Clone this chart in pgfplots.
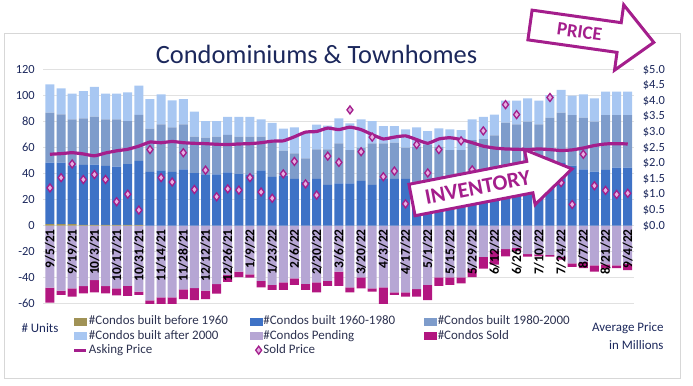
\documentclass[border=0pt]{standalone}
\usepackage{fontspec}
\setmainfont{Carlito}
\usepackage{pgfplots}
\pgfplotsset{compat=1.18}
\usepackage{pgfplotstable}

\definecolor{navy}{RGB}{28,40,92}
\definecolor{legc}{RGB}{45,50,80}
\definecolor{cA}{RGB}{160,146,86}
\definecolor{cB}{RGB}{62,114,198}
\definecolor{cC}{RGB}{126,156,203}
\definecolor{cD}{RGB}{168,199,242}
\definecolor{cP}{RGB}{182,166,212}
\definecolor{cS}{RGB}{178,22,128}
\definecolor{cL}{RGB}{164,30,140}
\definecolor{cM}{RGB}{228,176,226}
\definecolor{gridc}{RGB}{225,225,225}
\definecolor{framec}{RGB}{215,215,215}

\pgfplotstableread{
i b c1 c2 c3 pend sold ask sp
0 1.2 47.3 38.5 21.8 -47.7 -11.5 2.29 1.21
1 1.2 47.3 37.2 20.0 -50.0 -3.3 2.31 1.54
2 1.2 45.3 35.3 19.8 -48.3 -6.3 2.34 1.98
3 0.6 46.1 35.9 21.0 -46.4 -5.6 2.30 1.48
4 0.6 46.4 36.9 22.8 -41.8 -9.4 2.24 1.64
5 0.6 45.4 35.8 19.8 -46.4 -5.6 2.33 1.48
6 0.6 44.9 36.3 19.8 -48.3 -5.2 2.40 0.77
7 0.6 46.7 33.2 22.1 -46.2 -7.8 2.45 1.01
8 0.6 49.2 35.4 22.5 -50.8 -2.5 2.55 0.50
9 0 41.5 33.1 22.8 -57.4 -3.1 2.68 2.44
10 0 42.6 35.4 23.0 -55.1 -5.4 2.66 1.54
11 0 41.5 34.1 20.8 -55.1 -5.4 2.70 1.40
12 0 43.4 34.6 19.4 -48.9 -7.5 2.66 2.34
13 0 40.5 28.0 19.2 -48.0 -9.2 2.64 1.16
14 0 39.5 28.2 12.8 -50.0 -6.4 2.63 1.78
15 0 39.5 29.0 12.0 -45.0 -7.3 2.61 0.93
16 0 41.0 28.8 14.0 -38.0 -5.3 2.60 1.18
17 0 40.0 28.5 15.3 -35.4 -4.2 2.62 1.14
18 0 39.5 29.0 15.3 -37.4 -2.6 2.63 1.54
19 0 42.5 26.0 13.3 -42.5 -4.9 2.66 1.08
20 0 37.5 27.7 13.8 -45.6 -3.8 2.71 0.88
21 0 38.5 19.2 16.9 -43.6 -5.8 2.72 1.66
22 0 36.0 19.7 20.0 -40.5 -5.1 2.85 2.06
23 0 34.0 17.8 19.4 -44.8 -4.6 3.00 1.34
24 0 36.0 22.8 19.0 -43.6 -7.6 3.02 0.98
25 0 31.5 27.3 18.2 -42.5 -3.7 3.13 2.23
26 0 32.6 30.8 19.2 -35.4 -10.8 3.08 2.03
27 0 32.6 25.6 20.5 -47.4 -3.8 3.16 3.71
28 0 34.5 25.5 21.8 -39.7 -8.5 3.08 2.37
29 0 31.5 31.9 17.1 -48.2 -2.6 2.92 2.84
30 0 36.0 27.4 13.2 -47.4 -13.1 2.78 1.57
31 0 36.0 27.9 12.7 -51.2 -2.1 2.84 1.75
32 0 36.0 24.0 14.0 -51.2 -3.4 2.88 0.70
33 0 34.0 26.8 14.9 -48.7 -5.9 2.76 2.60
34 0 33.0 29.1 10.7 -45.6 -11.6 2.64 1.69
35 0 34.0 26.8 14.1 -39.7 -6.5 2.78 2.44
36 0 34.0 24.2 15.8 -39.7 -5.9 2.82 1.30
37 0 35.0 23.2 15.3 -39.7 -4.6 2.76 2.72
38 0 35.0 30.9 15.9 -33.0 -6.5 2.66 1.79
39 0 36.0 30.5 17.3 -24.0 -9.0 2.55 3.04
40 0 37.0 32.5 15.9 -19.0 -11.0 2.49 1.60
41 0 38.0 41.2 17.0 -18.0 -5.5 2.46 3.88
42 0 38.0 40.0 18.2 -17.0 -2.5 2.45 3.56
43 0 40.0 40.0 18.0 -21.8 -2.0 2.44 1.60
44 0 41.0 37.0 18.2 -22.0 -1.5 2.46 1.70
45 0 43.0 40.1 17.4 -22.5 -1.3 2.44 4.11
46 0 48.8 38.1 17.5 -24.0 -2.0 2.41 1.38
47 0 46.2 38.9 14.9 -29.0 -2.6 2.43 0.68
48 0 43.3 39.8 17.9 -28.0 -4.6 2.49 2.29
49 0 41.6 38.4 18.0 -30.5 -4.9 2.57 1.28
50 0 42.9 42.2 18.0 -29.8 -3.2 2.62 1.13
51 0 44.7 40.4 18.0 -30.5 -2.1 2.63 1.00
52 0 44.7 40.4 18.0 -29.2 -5.0 2.62 1.04
}\data

\pgfplotsset{base/.style={
  scale only axis, width=591.1bp, height=234bp,
  at={(43.3bp,81.3bp)}, anchor=south west,
  xmin=-0.6, xmax=52.6,
  axis line style={draw=none}, major tick length=0pt,
  tick label style={font=\fontsize{12.5}{14}\selectfont, text=navy},
  /pgf/number format/assume math mode=true,
}}

\begin{document}
\begin{tikzpicture}[x=1bp,y=1bp]
\path[use as bounding box] (0,0) rectangle (693,385);
\draw[framec, line width=1bp] (4,7) rectangle (680,352);

\node[anchor=base, font=\fontsize{26.5}{30}\selectfont, text=navy] at (316.5,322) {Condominiums \& Townhomes};

% negative bars
\begin{axis}[base, ymin=-60, ymax=120, ytick={-60,-40,...,120},
  ymajorgrids, grid style={gridc, line width=0.8bp}, xtick=\empty,
  yticklabel style={xshift=-5bp},
  ybar stacked, bar width=9bp]
\addplot[fill=cP, draw=none] table[x=i,y=pend]{\data};
\addplot[fill=cS, draw=none] table[x=i,y=sold]{\data};
\end{axis}

% positive bars
\begin{axis}[base, ymin=-60, ymax=120, ytick=\empty,
  ybar stacked, bar width=9bp,
  axis x line*=middle, hide obscured x ticks=false,
  xtick={0,2,...,52},
  xticklabels={9/5/21,9/19/21,10/3/21,10/17/21,10/31/21,11/14/21,11/28/21,12/12/21,12/26/21,1/9/22,1/23/22,2/6/22,2/20/22,3/6/22,3/20/22,4/3/22,4/17/22,5/1/22,5/15/22,5/29/22,6/12/22,6/26/22,7/10/22,7/24/22,8/7/22,8/21/22,9/4/22},
  xticklabel style={rotate=90, anchor=east, font=\bfseries\fontsize{13.5}{14}\selectfont, text=black}]
\addplot[fill=cA, draw=none] table[x=i,y=b]{\data};
\addplot[fill=cB, draw=none] table[x=i,y=c1]{\data};
\addplot[fill=cC, draw=none] table[x=i,y=c2]{\data};
\addplot[fill=cD, draw=none] table[x=i,y=c3]{\data};
\end{axis}

% prices
\begin{axis}[base, ymin=-2.5, ymax=5, axis y line*=right,
  ytick={0,0.5,...,5}, xtick=\empty,
  yticklabel={\$\pgfmathprintnumber[fixed,fixed zerofill,precision=1]{\tick}},
  yticklabel style={xshift=5bp},
  legend columns=3, legend cell align=left,
  legend style={at={(axis description cs:0.0502,-0.0483)}, anchor=north west,
    draw=none, fill=none, inner sep=0pt, outer sep=0pt,
    font=\fontsize{13}{15}\selectfont, text=legc, row sep=2bp,
    nodes={inner sep=1bp}}]
\addlegendimage{legend image code/.code={\fill[cA] (0bp,-3.5bp) rectangle (12bp,3.5bp);}}
\addlegendentry{\makebox[160bp][l]{\#Condos built before 1960}}
\addlegendimage{legend image code/.code={\fill[cB] (0bp,-3.5bp) rectangle (12bp,3.5bp);}}
\addlegendentry{\makebox[160bp][l]{\#Condos built 1960-1980}}
\addlegendimage{legend image code/.code={\fill[cC] (0bp,-3.5bp) rectangle (12bp,3.5bp);}}
\addlegendentry{\makebox[140bp][l]{\#Condos built 1980-2000}}
\addlegendimage{legend image code/.code={\fill[cD] (0bp,-3.5bp) rectangle (12bp,3.5bp);}}
\addlegendentry{\#Condos built after 2000}
\addlegendimage{legend image code/.code={\fill[cP] (0bp,-3.5bp) rectangle (12bp,3.5bp);}}
\addlegendentry{\#Condos Pending}
\addlegendimage{legend image code/.code={\fill[cS] (0bp,-3.5bp) rectangle (12bp,3.5bp);}}
\addlegendentry{\#Condos Sold}
\addplot[cL, line width=3.2bp, smooth, tension=0.3,
  legend image code/.code={\draw[cL, line width=3bp] (0bp,0bp) -- (12bp,0bp);}]
  table[x=i,y=ask]{\data};
\addlegendentry{Asking Price}
\addplot[only marks, mark=diamond*, mark size=4bp,
  mark options={fill=cM, draw=cL, line width=1.3bp}]
  table[x=i,y=sp]{\data};
\addlegendentry{Sold Price}
\end{axis}

\node[anchor=base west, font=\fontsize{13}{15}\selectfont, text=navy] at (18,53) {\# Units};
\node[anchor=base east, font=\fontsize{13}{15}\selectfont, text=navy] at (667,54) {Average Price};
\node[anchor=base east, font=\fontsize{13}{15}\selectfont, text=navy] at (667,36) {in Millions};

% INVENTORY arrow
\begin{scope}[shift={(412,185)}, rotate=11]
\draw[cL, line width=3bp, fill=white, line join=miter] (0,-16) -- (120,-16) -- (120,-28) -- (163,0) -- (120,28) -- (120,16) -- (0,16) -- cycle;
\node[transform shape, text=cL, font=\bfseries\fontsize{22}{24}\selectfont] at (67,0) {INVENTORY};
\end{scope}

% PRICE arrow
\begin{scope}[shift={(530,360)}, rotate=-8]
\draw[cL, line width=3bp, fill=white, line join=miter] (0,-15) -- (90,-15) -- (90,-33) -- (125,0) -- (90,33) -- (90,15) -- (0,15) -- cycle;
\node[transform shape, text=cL, font=\bfseries\fontsize{19}{21}\selectfont] at (50,0) {PRICE};
\end{scope}
\end{tikzpicture}
\end{document}
